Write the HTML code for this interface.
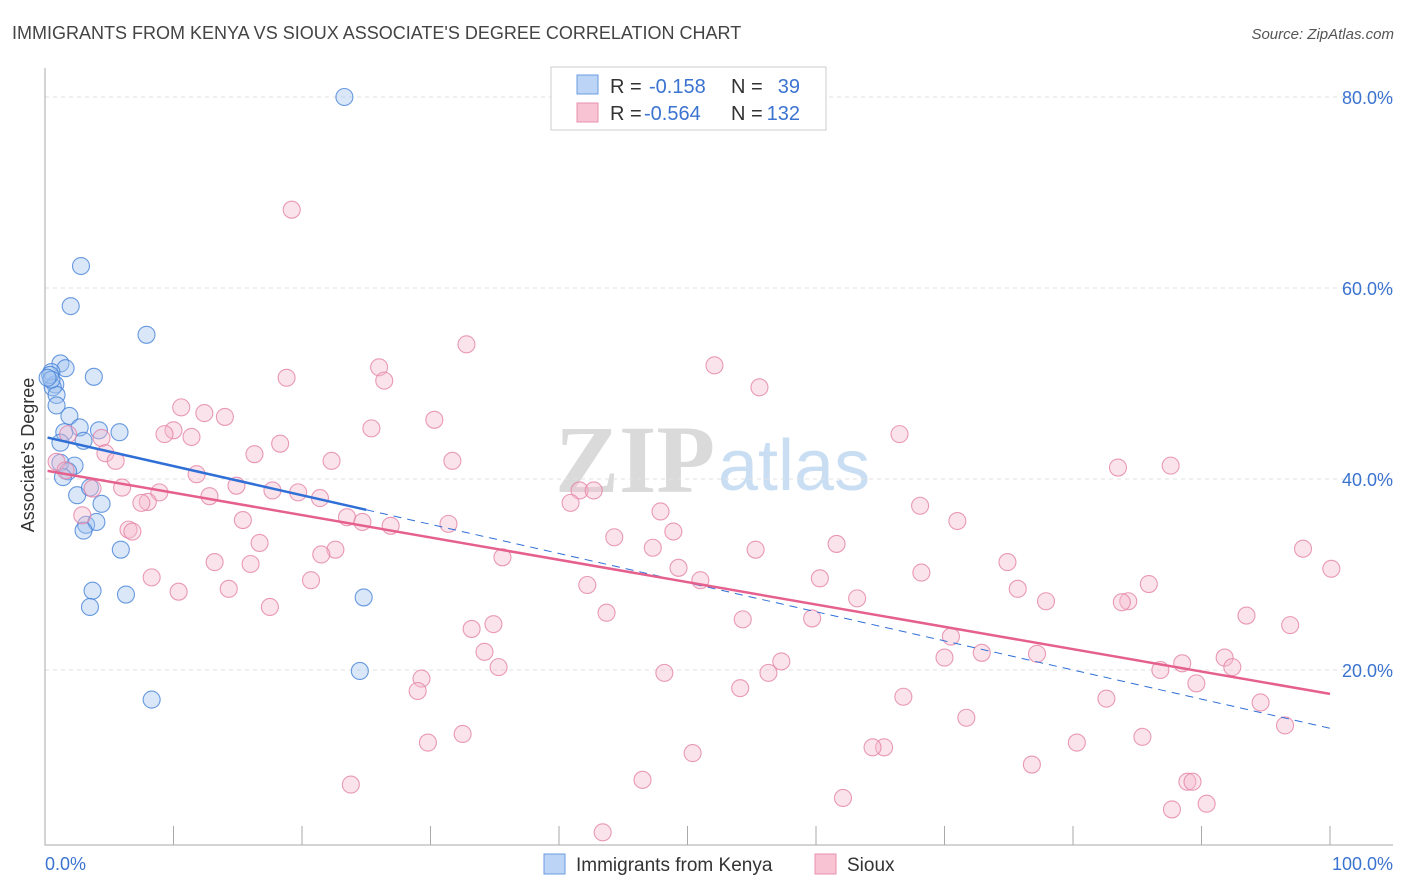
<!DOCTYPE html>
<html><head><meta charset="utf-8"><style>
body{margin:0;background:#fff;font-family:"Liberation Sans",sans-serif;}
svg{display:block}
</style></head><body>
<svg id="chart" width="1406" height="892" xmlns="http://www.w3.org/2000/svg">
<text x="12" y="39" font-size="18" fill="#444">IMMIGRANTS FROM KENYA VS SIOUX ASSOCIATE'S DEGREE CORRELATION CHART</text>
<text x="1394" y="39" font-size="15" fill="#555" text-anchor="end" font-style="italic">Source: ZipAtlas.com</text>
<g>
<text x="555" y="492" font-size="96" font-family="Liberation Serif,serif" fill="#dadada" font-weight="bold">ZIP</text>
<text x="718" y="490" font-size="72" fill="#cadef3">atlas</text>
</g>
<g id="grid"></g>
<g id="axes"></g>
<g id="pts"></g>
<g id="trends"></g>
<g>
<rect x="551" y="67" width="275" height="63" fill="#fff" stroke="#ccc"/>
<rect x="577" y="75" width="21" height="19" fill="#bcd4f5" stroke="#6a9be0"/>
<rect x="577" y="103" width="21" height="19" fill="#f8c3d3" stroke="#e890ad"/>
<text x="610" y="93" font-size="20" fill="#333">R =</text>
<text x="649" y="93" font-size="20" fill="#3b73d0">-0.158</text>
<text x="731" y="93" font-size="20" fill="#333">N =</text>
<text x="800" y="93" font-size="20" fill="#3b73d0" text-anchor="end">39</text>
<text x="610" y="120" font-size="20" fill="#333">R =</text>
<text x="644" y="120" font-size="20" fill="#3b73d0">-0.564</text>
<text x="731" y="120" font-size="20" fill="#333">N =</text>
<text x="800" y="120" font-size="20" fill="#3b73d0" text-anchor="end">132</text>
</g>
<g>
<rect x="544" y="854" width="21" height="20" fill="#bcd4f5" stroke="#6a9be0"/>
<text x="576" y="871" font-size="19" fill="#333">Immigrants from Kenya</text>
<rect x="815" y="854" width="21" height="20" fill="#f8c3d3" stroke="#e890ad"/>
<text x="847" y="871" font-size="19" fill="#333">Sioux</text>
</g>
<text transform="translate(34,455) rotate(-90)" font-size="18" fill="#333" text-anchor="middle">Associate's Degree</text>
<text x="45" y="870" font-size="18" fill="#3b73d0">0.0%</text>
<text x="1393" y="870" font-size="18" fill="#3b73d0" text-anchor="end">100.0%</text>
</svg>
<script>
const yTicks=[20,40,60,80];
const yTickLabels=["20.0%","40.0%","60.0%","80.0%"];
const xTicks=[0,10,20,30,40,50,60,70,80,90,100];
const kenyaX=[23.3,2.8,2.0,7.9,1.2,1.6,3.8,0.5,0.8,0.6,0.9,0.9,1.9,2.7,4.2,5.8,1.5,1.2,3.0,2.3,1.2,1.8,1.4,2.5,3.5,4.4,3.2,4.0,3.0,5.9,3.7,3.5,6.3,24.8,24.5,8.3,0.4,0.5,0.2];
const kenyaY=[80.0,62.3,58.1,55.1,52.1,51.6,50.7,51.2,49.9,49.6,48.8,47.7,46.6,45.4,45.1,44.9,44.9,43.8,44.0,41.4,41.7,40.8,40.2,38.3,39.1,37.4,35.2,35.5,34.6,32.6,28.3,26.6,27.9,27.6,19.9,16.9,50.9,50.4,50.6];
const siouxX=[19.2,32.8,52.1,26.0,26.4,18.8,55.6,10.6,12.4,14.0,30.3,66.5,25.4,10.0,9.3,11.4,1.8,4.4,18.3,16.3,4.7,5.5,22.3,31.7,83.5,87.6,0.9,11.8,1.6,6.0,14.9,3.7,41.6,42.7,8.9,12.8,17.7,19.7,21.4,8.0,40.9,7.5,47.9,68.1,15.4,23.5,24.7,26.9,31.4,2.9,6.5,6.8,48.9,44.3,16.7,61.6,22.6,21.5,55.3,47.3,97.9,13.2,16.0,35.6,71.0,100.1,8.3,49.3,68.2,74.9,20.7,51.0,60.3,42.2,10.4,14.3,75.7,85.9,84.3,83.8,63.2,77.9,17.5,43.7,54.3,59.7,93.5,96.9,34.9,33.2,70.5,34.2,35.3,48.2,57.3,56.3,70.0,72.9,77.2,91.8,88.5,86.8,92.4,89.6,29.3,29.0,54.1,66.8,82.6,94.6,71.7,96.5,32.5,29.8,80.3,85.4,65.3,64.4,50.4,76.8,46.5,23.8,88.9,89.3,90.4,62.1,87.7,43.4];
const siouxY=[68.2,54.1,51.9,51.7,50.3,50.6,49.6,47.5,46.9,46.5,46.2,44.7,45.3,45.1,44.7,44.4,44.7,44.3,43.7,42.6,42.7,41.9,41.9,41.9,41.2,41.4,41.8,40.5,40.9,39.1,39.3,39.0,38.8,38.8,38.6,38.2,38.8,38.6,38.0,37.6,37.5,37.5,36.6,37.2,35.7,36.0,35.5,35.1,35.3,36.2,34.7,34.5,34.5,33.9,33.3,33.2,32.6,32.1,32.6,32.8,32.7,31.3,31.1,31.8,35.6,30.6,29.7,30.7,30.2,31.3,29.4,29.4,29.6,28.9,28.2,28.5,28.5,29.0,27.2,27.1,27.5,27.2,26.6,26.0,25.3,25.4,25.7,24.7,24.8,24.3,23.5,21.9,20.3,19.7,20.9,19.7,21.3,21.8,21.7,21.3,20.7,20.0,20.3,18.6,19.1,17.8,18.1,17.2,17.0,16.6,15.0,14.2,13.3,12.4,12.4,13.0,11.9,11.9,11.3,10.1,8.5,8.0,8.3,8.3,6.0,6.6,5.4,3.0];
const kenyaTrend=[44.4,13.9];
const siouxTrend=[40.9,17.5];
const NS="http://www.w3.org/2000/svg";
const X=v=>45+v*12.85, Y=v=>861-v*9.55;
function mk(tag,attrs,parent){const e=document.createElementNS(NS,tag);for(const k in attrs)e.setAttribute(k,attrs[k]);parent.appendChild(e);return e;}
const grid=document.getElementById('grid'),axes=document.getElementById('axes'),pts=document.getElementById('pts'),tr=document.getElementById('trends');
yTicks.forEach((t,i)=>{
 const l=mk('line',{x1:45,x2:1393,y1:Y(t),y2:Y(t),stroke:'#e2e2e2','stroke-dasharray':'4,4'},grid);
 
 
 const tx=mk('text',{x:1393,y:Y(t)+7,'font-size':18,fill:'#3b73d0','text-anchor':'end'},grid);
 tx.textContent=yTickLabels[i];
 
 
});
const ax=mk('path',{d:'M45,68 V845 H1393',fill:'none',stroke:'#aaa'},axes);


xTicks.forEach(t=>{
 const l=mk('line',{x1:X(t),x2:X(t),y1:826,y2:845,stroke:'#aaa'},axes);
 
 
});
kenyaX.forEach((x,i)=>{
 const c=mk('circle',{cx:X(x),cy:Y(kenyaY[i]),r:8.5,fill:'rgba(160,196,240,0.4)',stroke:'rgba(70,130,215,0.8)','stroke-width':1.1},pts);
 
 
});
siouxX.forEach((x,i)=>{
 const c=mk('circle',{cx:X(x),cy:Y(siouxY[i]),r:8.5,fill:'rgba(246,184,204,0.4)',stroke:'rgba(228,130,166,0.8)','stroke-width':1.1},pts);
 
 
});
const kb=v=>kenyaTrend[0]+(kenyaTrend[1]-kenyaTrend[0])*v/100;
const sb=v=>siouxTrend[0]+(siouxTrend[1]-siouxTrend[0])*v/100;
let l1=mk('line',{x1:X(0.2),y1:Y(kb(0.2)),x2:X(25),y2:Y(kb(25)),stroke:'#2f6fd6','stroke-width':2.5},tr);


let l2=mk('line',{x1:X(25),y1:Y(kb(25)),x2:X(100),y2:Y(kb(100)),stroke:'#2f6fd6','stroke-width':1,'stroke-dasharray':'8,6'},tr);


let l3=mk('line',{x1:X(0.2),y1:Y(sb(0.2)),x2:X(100),y2:Y(sb(100)),stroke:'#e5608c','stroke-width':2.5},tr);


</script>
</body></html>
